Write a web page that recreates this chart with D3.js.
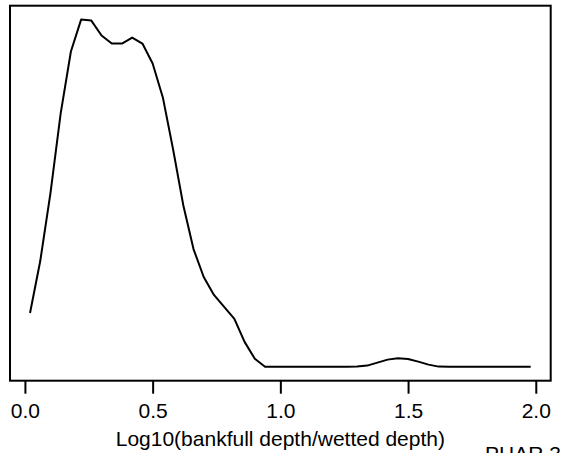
<!DOCTYPE html>
<html>
<head>
<meta charset="utf-8">
<script src="https://cdn.jsdelivr.net/npm/d3@7"></script>
<style>
  body { margin: 0; background: #fff; }
  svg { display: block; font-family: "Liberation Sans", Arial, sans-serif; }
</style>
</head>
<body>
<svg id="chart" width="562" height="453"></svg>
<script>
// density estimate of log10(bankfull depth / wetted depth), 50 grid points
const xValues = [
  0.02, 0.06, 0.10, 0.14, 0.18, 0.22, 0.26, 0.30, 0.34, 0.38,
  0.42, 0.46, 0.50, 0.54, 0.58, 0.62, 0.66, 0.70, 0.74, 0.78,
  0.82, 0.86, 0.90, 0.94, 0.98, 1.02, 1.06, 1.10, 1.14, 1.18,
  1.22, 1.26, 1.30, 1.34, 1.38, 1.42, 1.46, 1.50, 1.54, 1.58,
  1.62, 1.66, 1.70, 1.74, 1.78, 1.82, 1.86, 1.90, 1.94, 1.98
];
const densityValues = [
  0.27, 0.53, 0.87, 1.27, 1.58, 1.74, 1.735, 1.66, 1.62, 1.62,
  1.65, 1.62, 1.52, 1.35, 1.09, 0.81, 0.59, 0.45, 0.36, 0.30,
  0.24, 0.125, 0.04, 0.0, 0.0, 0.0, 0.0, 0.0, 0.0, 0.0,
  0.0, 0.0, 0.002, 0.006, 0.021, 0.036, 0.0425, 0.0395, 0.026, 0.011,
  0.001, 0.0, 0.0, 0.0, 0.0, 0.0, 0.0, 0.0, 0.0, 0.0
];
const xTicks = [0.0, 0.5, 1.0, 1.5, 2.0];
const xTitle = "Log10(bankfull depth/wetted depth)";
const cornerNote = "PHAR.3";

const svg = d3.select("#chart");
const box = { left: 10, right: 550.7, top: 5.7, bottom: 380.7 };
const fontSize = 21;

// R-style 4% padding on both axes
const xr = d3.extent(xValues);
const xPad = (xr[1] - xr[0]) * 0.04;
const x = d3.scaleLinear()
  .domain([xr[0] - xPad, xr[1] + xPad])
  .range([box.left, box.right]);

const yr = [0, d3.max(densityValues)];
const yPad = (yr[1] - yr[0]) * 0.04;
const y = d3.scaleLinear()
  .domain([yr[0] - yPad, yr[1] + yPad])
  .range([box.bottom, box.top]);

const points = xValues.map((v, i) => [v, densityValues[i]]);

svg.append("path")
  .datum(points)
  .attr("fill", "none")
  .attr("stroke", "#000")
  .attr("stroke-width", 2)
  .attr("stroke-linejoin", "round")
  .attr("d", d3.line().x(d => x(d[0])).y(d => y(d[1])));

// frame
svg.append("rect")
  .attr("x", box.left)
  .attr("y", box.top)
  .attr("width", box.right - box.left)
  .attr("height", box.bottom - box.top)
  .attr("fill", "none")
  .attr("stroke", "#000")
  .attr("stroke-width", 2);

// x axis
const xAxis = svg.append("g")
  .attr("transform", `translate(0, ${box.bottom})`)
  .call(d3.axisBottom(x).tickValues(xTicks).tickFormat(d3.format(".1f")).tickSize(13));

xAxis.select(".domain").remove();
xAxis.selectAll(".tick line").attr("stroke", "#000").attr("stroke-width", 2);
xAxis.selectAll(".tick text")
  .attr("y", 37)
  .attr("dy", null)
  .attr("fill", "#000")
  .attr("font-size", fontSize)
  .attr("font-family", "Liberation Sans, Arial, sans-serif");

svg.append("text")
  .attr("x", (box.left + box.right) / 2)
  .attr("y", 445.5)
  .attr("text-anchor", "middle")
  .attr("font-size", fontSize)
  .text(xTitle);

svg.append("text")
  .attr("x", 485)
  .attr("y", 460.5)
  .attr("font-size", fontSize)
  .text(cornerNote);
</script>
</body>
</html>
